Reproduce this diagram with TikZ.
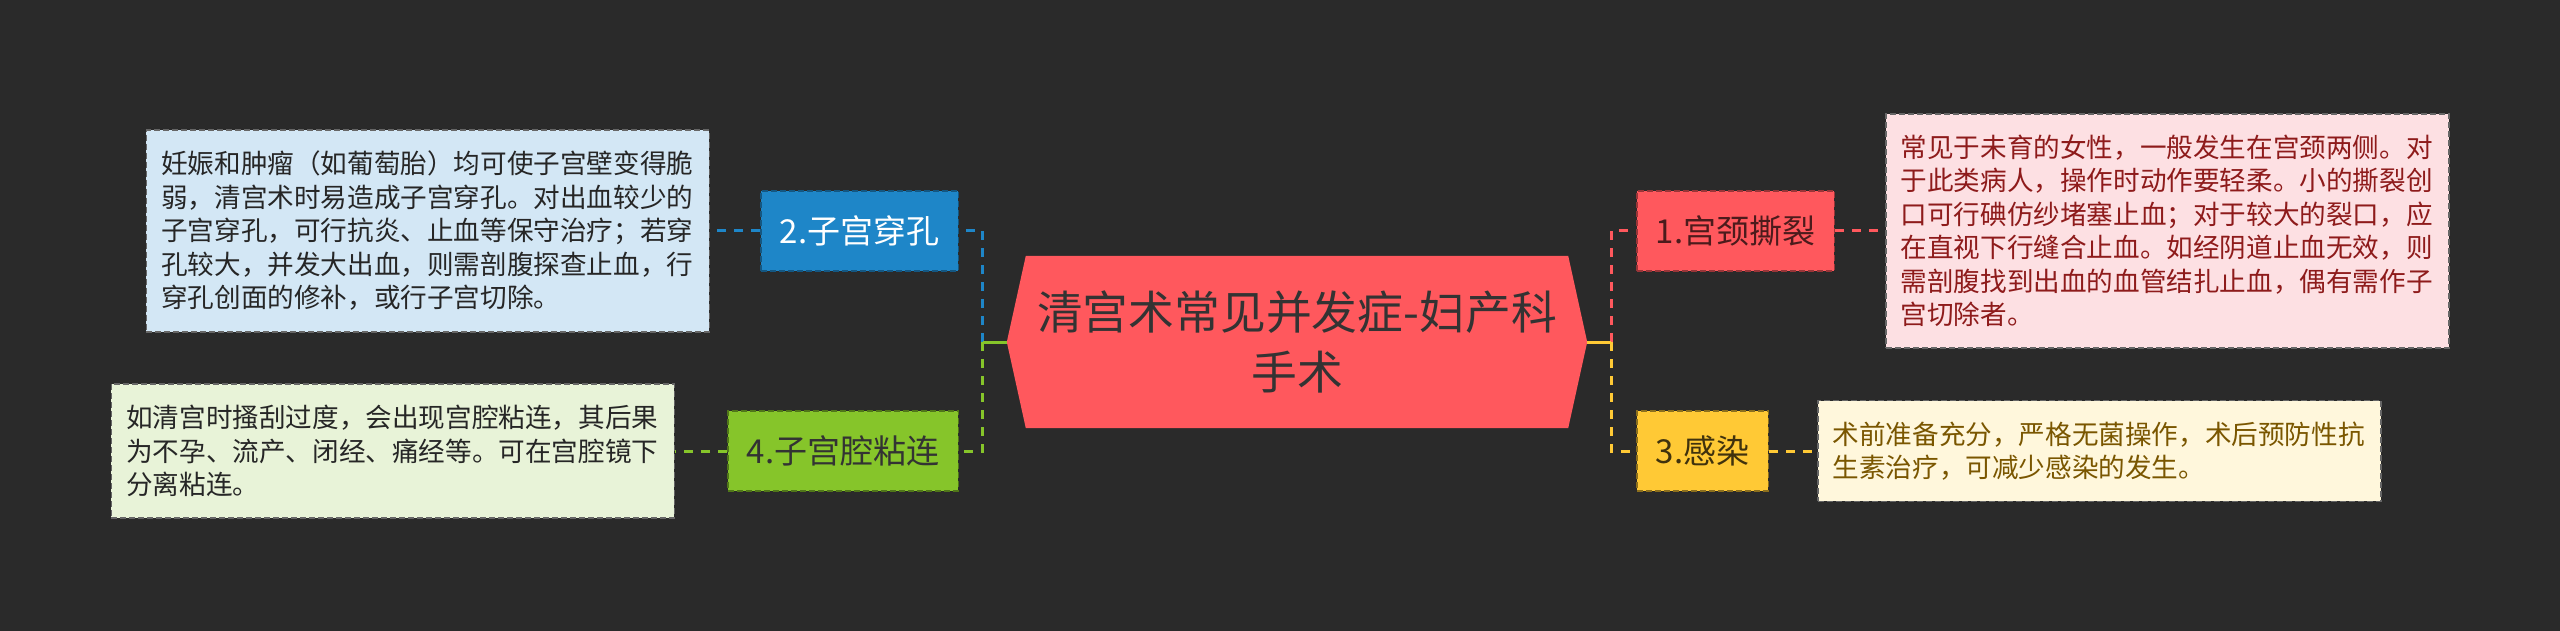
\documentclass[tikz,border=0pt]{standalone}
\usepackage{fontspec}
\setmainfont{Noto Sans CJK SC}
\usetikzlibrary{backgrounds}

\definecolor{bgdark}{HTML}{2A2A2A}
\definecolor{cred}{HTML}{FF585D}
\definecolor{cblue}{HTML}{1E86C8}
\definecolor{cgreen}{HTML}{86C52A}
\definecolor{cyellow}{HTML}{FFC935}
\definecolor{lred}{HTML}{FDE0E3}
\definecolor{lblue}{HTML}{D3E7F5}
\definecolor{lgreen}{HTML}{E8F3D8}
\definecolor{lyellow}{HTML}{FFF7DC}
\definecolor{tred}{HTML}{8E1B1B}
\definecolor{tyellow}{HTML}{7A5600}

\tikzset{
  topic/.style={minimum width=580pt, minimum height=172pt, align=center, text=black!80,
    font=\fontsize{45.8}{60}\selectfont},
  sub/.style={minimum height=80pt, inner xsep=19pt, line width=1.5pt,
    dash pattern=on 6pt off 3pt, font=\fontsize{33}{40}\selectfont},
  note/.style={text width=533pt, align=left, inner xsep=15pt, inner ysep=21pt,
    draw=black!60, line width=1.5pt, dash pattern=on 6pt off 3pt,
    font=\fontsize{26.6}{33.5}\selectfont},
  link/.style={line width=3pt, dash pattern=on 9pt off 8pt},
  stub/.style={line width=3pt}
}

\begin{document}
\begin{tikzpicture}[x=1pt, y=-1pt]
  \begin{scope}[on background layer]
    \fill[bgdark] (0,0) rectangle (2560,631);
  \end{scope}
  \useasboundingbox (0,0) rectangle (2560,631);

  % centre
  \node[topic] (main) at (1297,342) {清宫术常见并发症-妇产科\\手术};
  \begin{scope}[on background layer]
    \fill[cred] ([xshift=19pt]main.north west) -- ([xshift=-19pt]main.north east) -- (main.east)
      -- ([xshift=-19pt]main.south east) -- ([xshift=19pt]main.south west) -- (main.west) -- cycle;
  \end{scope}

  % left side
  \node[sub, fill=cblue, draw=cblue!65!black, text=white, anchor=east] (perf) at (959,231) {2.子宫穿孔};
  \node[note, fill=lblue, text=black!85, anchor=east] (perfnote) at (710,231)
    {妊娠和肿瘤（如葡萄胎）均可使子宫壁变得脆\\弱，清宫术时易造成子宫穿孔。对出血较少的\\子宫穿孔，可行抗炎、止血等保守治疗；若穿\\孔较大，并发大出血，则需剖腹探查止血，行\\穿孔创面的修补，或行子宫切除。};
  \node[sub, fill=cgreen, draw=cgreen!60!black, text=black!80, anchor=east] (adh) at (959,451) {4.子宫腔粘连};
  \node[note, fill=lgreen, text=black!85, anchor=east] (adhnote) at (675,451)
    {如清宫时搔刮过度，会出现宫腔粘连，其后果\\为不孕、流产、闭经、痛经等。可在宫腔镜下\\分离粘连。};

  % right side
  \node[sub, fill=cred, draw=cred!60!black, text=cred!30!black, anchor=west] (tear) at (1636,231) {1.宫颈撕裂};
  \node[note, fill=lred, text=tred, anchor=west] (tearnote) at (1885,231)
    {常见于未育的女性，一般发生在宫颈两侧。对\\于此类病人，操作时动作要轻柔。小的撕裂创\\口可行碘仿纱堵塞止血；对于较大的裂口，应\\在直视下行缝合止血。如经阴道止血无效，则\\需剖腹找到出血的血管结扎止血，偶有需作子\\宫切除者。};
  \node[sub, fill=cyellow, draw=cyellow!55!black, text=cyellow!25!black, anchor=west] (inf) at (1636,451) {3.感染};
  \node[note, fill=lyellow, text=tyellow, anchor=west] (infnote) at (1817,451)
    {术前准备充分，严格无菌操作，术后预防性抗\\生素治疗，可减少感染的发生。};

  % connectors
  \coordinate (lhub) at ([xshift=-24pt]main.west);
  \coordinate (rhub) at ([xshift=24pt]main.east);
  \draw[link, cblue] (lhub) |- (perf.east);
  \draw[link, cgreen] (lhub) |- (adh.east);
  \draw[stub, cgreen] (main.west) -- (lhub);
  \draw[link, cred] (rhub) |- (tear.west);
  \draw[link, cyellow] (rhub) |- (inf.west);
  \draw[stub, cyellow] (main.east) -- (rhub);

  \draw[link, cblue] (perf.west) -- (perfnote.east);
  \draw[link, cgreen] (adh.west) -- (adhnote.east);
  \draw[link, cred] (tear.east) -- (tearnote.west);
  \draw[link, cyellow] (inf.east) -- (infnote.west);
\end{tikzpicture}
\end{document}
